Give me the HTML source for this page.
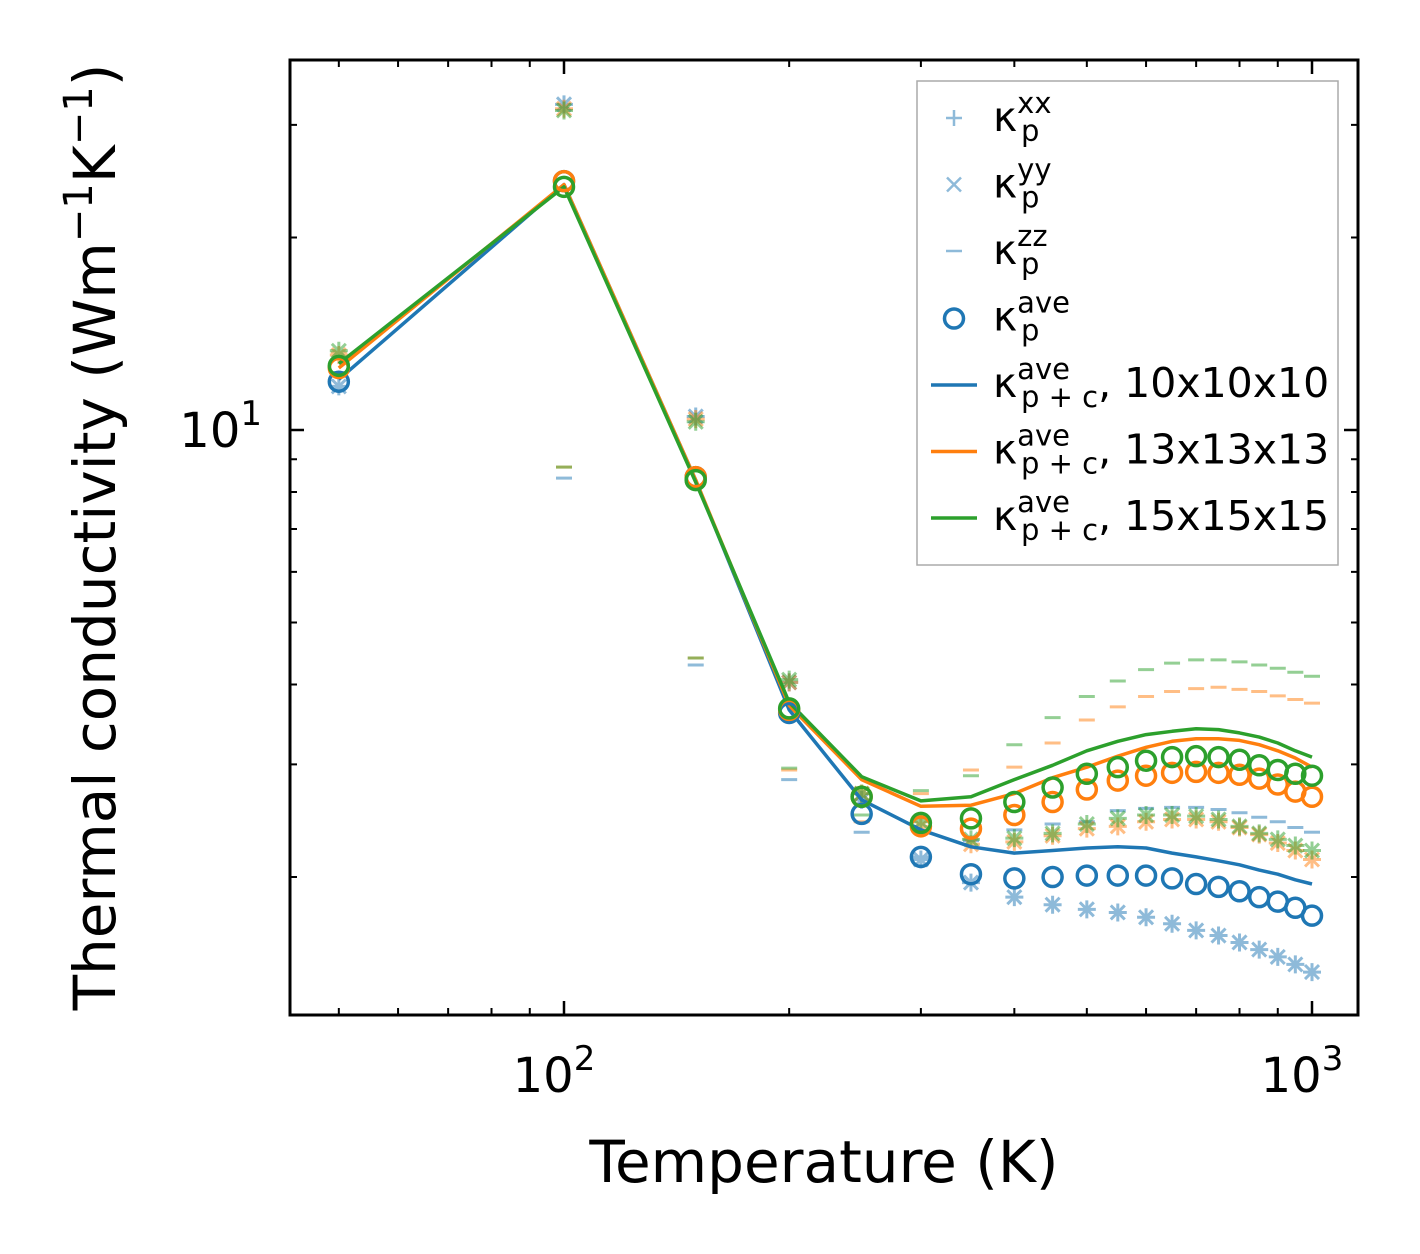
<!DOCTYPE html>
<html><head><meta charset="utf-8"><style>
html,body{margin:0;padding:0;background:#fff;}
svg{display:block;font-family:"DejaVu Sans","Liberation Sans",sans-serif;}
</style></head><body>
<svg id="chart" width="1420" height="1254" viewBox="0 0 1420 1254" xmlns="http://www.w3.org/2000/svg">
<g id="marks"></g>
<g id="axes"></g>
<g id="legend"></g>
</svg>
<script>
const temps = [50,100,150,200,250,300,350,400,450,500,550,600,650,700,750,800,850,900,950,1000];
const colors = ['#1f77b4','#ff7f0e','#2ca02c'];
const meshLabels = ['10x10x10','13x13x13','15x15x15'];
const aveP10 = [11.9,24.5,8.44,3.61,2.51,2.15,2.02,1.99,2.00,2.01,2.01,2.01,1.99,1.95,1.93,1.90,1.86,1.83,1.79,1.74];
const aveP13 = [12.5,24.5,8.44,3.65,2.67,2.40,2.38,2.50,2.62,2.74,2.83,2.88,2.91,2.92,2.91,2.89,2.85,2.79,2.72,2.67];
const aveP15 = [12.6,24.0,8.35,3.67,2.67,2.43,2.47,2.62,2.76,2.90,2.97,3.04,3.08,3.09,3.08,3.05,2.99,2.94,2.90,2.88];
const avePC10 = [12.0,24.2,8.35,3.65,2.64,2.37,2.23,2.18,2.20,2.22,2.23,2.22,2.18,2.15,2.12,2.09,2.05,2.02,1.98,1.95];
const avePC13 = [12.5,24.2,8.35,3.71,2.84,2.58,2.59,2.70,2.86,2.97,3.09,3.19,3.26,3.29,3.29,3.27,3.22,3.15,3.07,2.97];
const avePC15 = [12.7,24.0,8.29,3.75,2.87,2.63,2.67,2.84,2.99,3.15,3.26,3.34,3.38,3.41,3.40,3.36,3.31,3.24,3.15,3.08];
const xx10 = [11.7,32.3,10.5,4.03,2.64,2.13,1.96,1.86,1.81,1.78,1.76,1.73,1.69,1.65,1.62,1.58,1.54,1.50,1.46,1.42];
const yy10 = [11.7,32.3,10.5,4.03,2.64,2.13,1.96,1.86,1.81,1.78,1.76,1.73,1.69,1.65,1.62,1.58,1.54,1.50,1.46,1.42];
const zz10 = [12.3,8.41,4.29,2.84,2.35,2.15,2.28,2.37,2.42,2.44,2.54,2.56,2.57,2.57,2.55,2.52,2.48,2.44,2.39,2.35];
const xx13 = [13.1,31.8,10.4,4.03,2.70,2.40,2.25,2.27,2.32,2.38,2.40,2.44,2.46,2.46,2.44,2.39,2.33,2.26,2.20,2.13];
const yy13 = [13.1,31.8,10.4,4.03,2.70,2.40,2.25,2.27,2.32,2.38,2.40,2.44,2.46,2.46,2.44,2.39,2.33,2.26,2.20,2.13];
const zz13 = [13.2,8.75,4.40,2.94,2.44,2.70,2.94,2.97,3.24,3.52,3.69,3.83,3.90,3.94,3.96,3.93,3.90,3.84,3.79,3.74];
const xx15 = [13.3,31.6,10.3,4.07,2.70,2.44,2.29,2.30,2.34,2.42,2.47,2.50,2.50,2.49,2.46,2.40,2.34,2.29,2.24,2.20];
const yy15 = [13.3,31.6,10.3,4.07,2.70,2.44,2.29,2.30,2.34,2.42,2.47,2.50,2.50,2.49,2.46,2.40,2.34,2.29,2.24,2.20];
const zz15 = [13.3,8.75,4.40,2.96,2.50,2.73,2.88,3.22,3.55,3.83,4.05,4.22,4.32,4.37,4.37,4.34,4.29,4.24,4.18,4.12];
const xTickVals = [100,1000];
const xTickExp = ['2','3'];
const yTickVals = [10];
const yTickExp = ['1'];

const NS='http://www.w3.org/2000/svg';
const L=290,R=1358,T=60,B=1015;
const xmin=Math.log10(100)-(564-L)/748, xmax=xmin+(R-L)/748;
const yDec=639.5, ymax=1+(430-T)/yDec, ymin=ymax-(B-T)/yDec;
function X(v){return L+(Math.log10(v)-xmin)/(xmax-xmin)*(R-L);}
function Y(v){return B-(Math.log10(v)-ymin)/(ymax-ymin)*(B-T);}
function mk(tag,attrs,parent){const e=document.createElementNS(NS,tag);for(const k in attrs)e.setAttribute(k,attrs[k]);parent.appendChild(e);return e;}
const marks=document.getElementById('marks'), axes=document.getElementById('axes'), legend=document.getElementById('legend');

const sets=[[xx10,yy10,zz10,aveP10,avePC10],[xx13,yy13,zz13,aveP13,avePC13],[xx15,yy15,zz15,aveP15,avePC15]];
sets.forEach((s,si)=>{
  const c=colors[si];
  const g=mk('g',{opacity:0.5,stroke:c,'stroke-width':3,fill:'none'},marks);
  
  
  temps.forEach((t,i)=>{
    const x=X(t);
    let y=Y(s[0][i]);
    const p=mk('path',{d:`M${x-9},${y}H${x+9}M${x},${y-9}V${y+9}`},g);
    
    
    y=Y(s[1][i]);
    const q=mk('path',{d:`M${x-7},${y-7}L${x+7},${y+7}M${x-7},${y+7}L${x+7},${y-7}`},g);
    
    
    y=Y(s[2][i]);
    const z=mk('path',{d:`M${x-8},${y}H${x+8}`},g);
    
    
  });
});
sets.forEach((s,si)=>{
  const c=colors[si];
  const d=temps.map((t,i)=>(i?'L':'M')+X(t).toFixed(1)+','+Y(s[4][i]).toFixed(1)).join('');
  const ln=mk('path',{d:d,stroke:c,'stroke-width':3.5,fill:'none','stroke-linejoin':'round'},marks);
  
  
});
sets.forEach((s,si)=>{
  const c=colors[si];
  temps.forEach((t,i)=>{
    const ci=mk('circle',{cx:X(t),cy:Y(s[3][i]),r:9.5,stroke:c,'stroke-width':3.5,fill:'none'},marks);
    
    
  });
});
const fr=mk('rect',{x:L,y:T,width:R-L,height:B-T,fill:'none',stroke:'#000','stroke-width':3},axes);


for(let e=1;e<=3;e++)for(let m=1;m<10;m++){
  const v=m*Math.pow(10,e); if(v<Math.pow(10,xmin)||v>Math.pow(10,xmax))continue;
  const x=X(v), len=m===1?14:7;
  mk('path',{d:`M${x},${B}V${B-len}M${x},${T}V${T+len}`,stroke:'#000','stroke-width':m===1?2.5:2},axes);
}
xTickVals.forEach((v,i)=>{
  const t=mk('text',{x:X(v)-10,y:1092,'font-size':48,'text-anchor':'middle'},axes);
  
  
  t.innerHTML='10<tspan dy="-22" font-size="34">'+xTickExp[i]+'</tspan>';
});
for(let e=0;e<=1;e++)for(let m=1;m<10;m++){
  const v=m*Math.pow(10,e); if(v<Math.pow(10,ymin)||v>Math.pow(10,ymax))continue;
  const y=Y(v), len=m===1?14:7;
  mk('path',{d:`M${L},${y}H${L+len}M${R},${y}H${R-len}`,stroke:'#000','stroke-width':m===1?2.5:2},axes);
}
yTickVals.forEach((v,i)=>{
  const t=mk('text',{x:262,y:Y(v)+17,'font-size':48,'text-anchor':'end'},axes);
  
  
  t.innerHTML='10<tspan dy="-22" font-size="34">'+yTickExp[i]+'</tspan>';
});
const xt=mk('text',{x:824,y:1182,'font-size':58,'text-anchor':'middle'},axes);


xt.textContent='Temperature (K)';
const yt=mk('text',{transform:'translate(115,537) rotate(-90)','font-size':58,'text-anchor':'middle'},axes);


yt.innerHTML='Thermal conductivity (Wm<tspan dy="-23" font-size="40">−1</tspan><tspan dy="23">K</tspan><tspan dy="-23" font-size="40">−1</tspan><tspan dy="23">)</tspan>';
const lb=mk('rect',{x:917,y:81,width:421,height:484,fill:'#fff',stroke:'#aaa','stroke-width':1.5},legend);


const entries=[['xx','',null],['yy','',null],['zz','',null],['ave','',null],['ave','p + c',0],['ave','p + c',1],['ave','p + c',2]];
entries.forEach((en,i)=>{
  const y=131+i*66.5, cy=y-13;
  const g=mk('g',{},legend);
  
  
  const hx=954;
  if(i===0)mk('path',{d:`M${hx-8},${cy}H${hx+8}M${hx},${cy-8}V${cy+8}`,stroke:colors[0],'stroke-width':2.5,opacity:0.5},g);
  if(i===1)mk('path',{d:`M${hx-7},${cy-7}L${hx+7},${cy+7}M${hx-7},${cy+7}L${hx+7},${cy-7}`,stroke:colors[0],'stroke-width':2.5,opacity:0.5},g);
  if(i===2)mk('path',{d:`M${hx-8},${cy}H${hx+8}`,stroke:colors[0],'stroke-width':2.5,opacity:0.5},g);
  if(i===3)mk('circle',{cx:hx,cy:cy+1,r:9.5,stroke:colors[0],'stroke-width':3.5,fill:'none'},g);
  if(i>=4)mk('path',{d:`M931,${cy+1}H977`,stroke:colors[en[2]],'stroke-width':3.5},g);
  const t=mk('text',{x:993,y:y,'font-size':41},g);
  const sub=en[1]?en[1]:'p';
  let html='κ<tspan font-size="29" dy="-18">'+en[0]+'</tspan><tspan font-size="29" x="1021" dy="28">'+sub+'</tspan>';
  if(i>=4)html+='<tspan dy="-10">, '+meshLabels[en[2]]+'</tspan>';
  t.innerHTML=html;
});
</script>
</body></html>
